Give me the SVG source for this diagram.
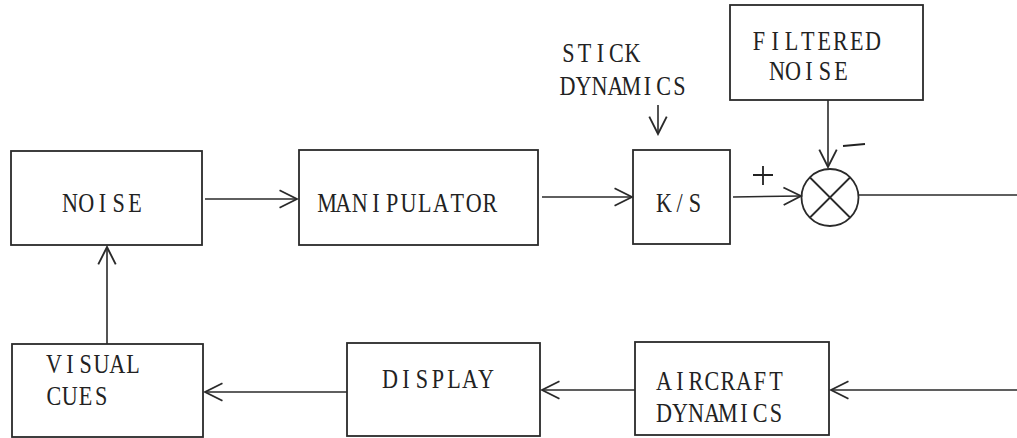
<svg xmlns="http://www.w3.org/2000/svg" width="1017" height="438" viewBox="0 0 1017 438">
  <style>
    .box { fill: none; stroke: #2a2a2a; stroke-width: 1.8; }
    /* typewriter-style labels: every glyph centred in its own fixed-pitch cell */
    .lbl { font-family: "Liberation Serif", "Times New Roman", serif; font-size: 27px; fill: #222; text-anchor: middle; }
    .wire { fill: none; stroke: #2a2a2a; stroke-width: 1.6; }
    .sign { fill: none; stroke: #222; stroke-width: 1.8; }
  </style>
  <defs>
    <marker id="vee" markerUnits="userSpaceOnUse" markerWidth="24" markerHeight="24" viewBox="-20 -10 22 20" refX="0" refY="0" orient="auto">
      <path d="M -16 -8 L 0 0 L -16 8" fill="none" stroke="#2a2a2a" stroke-width="1.7"/>
    </marker>
  </defs>
  <rect width="1017" height="438" fill="#ffffff"/>

  <!-- upper row -->
  <g id="noise">
    <rect class="box" x="11" y="151" width="191" height="94"/>
    <text class="lbl" transform="translate(70 212) scale(0.82 1)" x="0 19.8 39.6 59.5 79.3" y="0">NOISE</text>
  </g>
  <g id="manipulator">
    <rect class="box" x="299" y="150" width="239" height="95"/>
    <text class="lbl" transform="translate(327 212) scale(0.82 1)" x="0 19.9 39.8 59.6 79.5 99.4 119.3 139.1 159 178.9 198.8" y="0">MANIPULATOR</text>
  </g>
  <g id="stick">
    <rect class="box" x="633" y="150" width="97" height="94"/>
    <text class="lbl" transform="translate(664 212) scale(0.82 1)" x="0 18.9 37.8" y="0">K/S</text>
  </g>
  <g id="stick-dynamics">
    <text class="lbl" transform="translate(568.5 62) scale(0.82 1)" x="0 19.5 39 58.5 78" y="0">STICK</text>
    <text class="lbl" transform="translate(567.5 95) scale(0.82 1)" x="0 19.5 39 58.5 78 97.6 117.1 136.6" y="0">DYNAMICS</text>
  </g>
  <g id="filtered-noise">
    <rect class="box" x="730" y="5" width="193" height="95"/>
    <text class="lbl" transform="translate(759 50) scale(0.82 1)" x="0 19.9 39.8 59.6 79.5 99.4 119.3 139.1" y="0">FILTERED</text>
    <text class="lbl" transform="translate(777 80) scale(0.82 1)" x="0 19.5 39 58.5 78" y="0">NOISE</text>
  </g>
  <g id="summing-junction">
    <circle class="box" cx="830" cy="197.5" r="28.5"/>
    <line class="box" x1="810" y1="177.5" x2="850" y2="217.5"/>
    <line class="box" x1="850" y1="177.5" x2="810" y2="217.5"/>
    <path class="sign" d="M 753 175 L 773 175 M 763 166 L 763 185"/>
    <path class="sign" d="M 843 146 L 865 144"/>
  </g>

  <!-- lower row -->
  <g id="visual-cues">
    <rect class="box" x="12" y="344" width="191" height="93"/>
    <text class="lbl" transform="translate(54 373) scale(0.82 1)" x="0 19.3 38.5 57.8 77.1 96.3" y="0">VISUAL</text>
    <text class="lbl" transform="translate(54 405) scale(0.82 1)" x="0 19.1 38.3 57.4" y="0">CUES</text>
  </g>
  <g id="display">
    <rect class="box" x="347" y="343" width="193" height="93"/>
    <text class="lbl" transform="translate(390 388) scale(0.82 1)" x="0 19.5 39 58.5 78 97.6 117.1" y="0">DISPLAY</text>
  </g>
  <g id="aircraft-dynamics">
    <rect class="box" x="635" y="342" width="194" height="93"/>
    <text class="lbl" transform="translate(664 390) scale(0.82 1)" x="0 19.5 39 58.5 78 97.6 117.1 136.6" y="0">AIRCRAFT</text>
    <text class="lbl" transform="translate(664 422) scale(0.82 1)" x="0 19.5 39 58.5 78 97.6 117.1 136.6" y="0">DYNAMICS</text>
  </g>

  <!-- signal paths -->
  <g id="connectors">
    <line class="wire" x1="205" y1="199" x2="297" y2="199" marker-end="url(#vee)"/>
    <line class="wire" x1="542" y1="197" x2="632" y2="197" marker-end="url(#vee)"/>
    <line class="wire" x1="658" y1="105" x2="658" y2="134" marker-end="url(#vee)"/>
    <line class="wire" x1="828" y1="100" x2="828" y2="167" marker-end="url(#vee)"/>
    <line class="wire" x1="733" y1="197" x2="801" y2="196" marker-end="url(#vee)"/>
    <line class="wire" x1="859" y1="195" x2="1017" y2="195"/>
    <line class="wire" x1="1017" y1="390" x2="831" y2="390" marker-end="url(#vee)"/>
    <line class="wire" x1="635" y1="390" x2="542" y2="390" marker-end="url(#vee)"/>
    <line class="wire" x1="347" y1="392" x2="205" y2="392" marker-end="url(#vee)"/>
    <line class="wire" x1="107" y1="344" x2="107" y2="247" marker-end="url(#vee)"/>
  </g>
</svg>
